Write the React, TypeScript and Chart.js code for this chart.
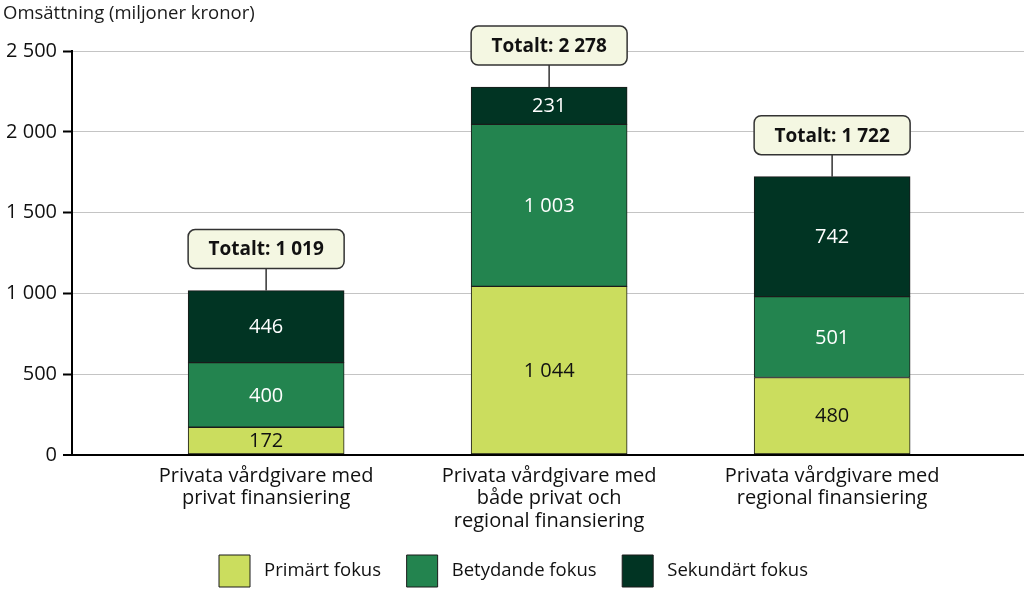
import React, { useEffect, useRef } from "react";
import { Chart, registerables } from "chart.js";

Chart.register(...registerables);

const categories: string[][] = [
  ["Privata vårdgivare med", "privat finansiering"],
  ["Privata vårdgivare med", "både privat och", "regional finansiering"],
  ["Privata vårdgivare med", "regional finansiering"],
];
const primart = [172, 1044, 480];
const betydande = [400, 1003, 501];
const sekundart = [446, 231, 742];
const totals = [1019, 2278, 1722];
const seriesNames = ["Primärt fokus", "Betydande fokus", "Sekundärt fokus"];
const yTicks = [0, 500, 1000, 1500, 2000, 2500];
const yTitle = "Omsättning (miljoner kronor)";

const FONT = "'Open Sans', sans-serif";
const fmt = (n: number) => String(n).replace(/\B(?=(\d{3})+(?!\d))/g, " ");

const labelsPlugin = {
  id: "segLabels",
  afterDatasetsDraw(chart: any) {
    const ctx = chart.ctx;
    ctx.save();
    ctx.textAlign = "center";
    ctx.textBaseline = "middle";
    chart.data.datasets.forEach((ds: any, di: number) => {
      const meta = chart.getDatasetMeta(di);
      meta.data.forEach((el: any, i: number) => {
        const v = ds.data[i].y;
        ctx.font = `20px ${FONT}`;
        ctx.fillStyle = di === 0 ? "#111111" : "#ffffff";
        ctx.fillText(fmt(v), el.x, (el.y + el.base) / 2 + 1);
      });
    });
    const topMeta = chart.getDatasetMeta(chart.data.datasets.length - 1);
    topMeta.data.forEach((el: any, i: number) => {
      const w = el.width;
      const h = 39;
      const barTop = el.y;
      const bottom = barTop - 22;
      const top = bottom - h;
      const left = el.x - w / 2;
      ctx.beginPath();
      ctx.strokeStyle = "#333333";
      ctx.lineWidth = 1.5;
      ctx.moveTo(el.x, bottom);
      ctx.lineTo(el.x, barTop);
      ctx.stroke();
      ctx.beginPath();
      ctx.roundRect(left, top, w, h, 7);
      ctx.fillStyle = "#F4F7E2";
      ctx.fill();
      ctx.stroke();
      ctx.fillStyle = "#111111";
      ctx.font = `bold 19px ${FONT}`;
      ctx.fillText("Totalt: " + fmt(totals[i]), el.x, top + h / 2 + 1);
    });
    ctx.restore();
  },
};

export default function App() {
  const ref = useRef<HTMLCanvasElement>(null);
  useEffect(() => {
    document.body.style.margin = "0";
    const colors = ["#CBDD5E", "#23844F", "#013423"];
    const series = [primart, betydande, sekundart];
    const chart = new Chart(ref.current!, {
      type: "bar",
      data: {
        datasets: series.map((s, si) => ({
          label: seriesNames[si],
          data: s.map((v, i) => ({ x: i, y: v })),
          backgroundColor: colors[si],
          borderColor: "#1b1b1b",
          borderWidth: 1,
          borderSkipped: false,
          barThickness: 156,
        })),
      },
      options: {
        animation: false,
        responsive: true,
        maintainAspectRatio: false,
        events: [],
        layout: { padding: { left: 3, right: 0, top: 0, bottom: -8 } },
        plugins: {
          tooltip: { enabled: false },
          title: {
            display: true,
            text: yTitle,
            align: "start",
            color: "#1a1a1a",
            font: { family: FONT, size: 18.5, weight: "normal" },
            padding: { top: 3, bottom: 26 },
          },
          legend: {
            position: "bottom",
            labels: {
              boxWidth: 31,
              boxHeight: 32,
              padding: 16,
              color: "#111111",
              font: { family: FONT, size: 18.5 },
              generateLabels: (c: any) =>
                Chart.defaults.plugins.legend.labels
                  .generateLabels(c)
                  .map((l: any, i: number, arr: any[]) => ({
                    ...l,
                    text: " " + l.text + (i < arr.length - 1 ? "  " : ""),
                  })),
            },
          },
        },
        scales: {
          x: {
            type: "linear",
            stacked: true,
            offset: false,
            min: -0.686,
            max: 2.678,
            grid: { display: false, drawTicks: false, offset: false },
            border: { display: true, color: "#000000", width: 2 },
            afterBuildTicks: (s: any) => {
              s.ticks = categories.map((_, i) => ({ value: i }));
            },
            afterFit: (s: any) => {
              s.height = 84;
            },
            ticks: {
              autoSkip: false,
              maxRotation: 0,
              padding: 10,
              color: "#111111",
              font: { family: FONT, size: 20, lineHeight: 1.125 },
              callback: (v: any) => categories[v as number] ?? "",
            },
          },
          y: {
            stacked: true,
            min: 0,
            max: 2500,
            afterBuildTicks: (s: any) => {
              s.ticks = yTicks.map((v) => ({ value: v }));
            },
            afterFit: (s: any) => {
              s.width = 69;
            },
            grid: {
              color: (c: any) => (c.tick && c.tick.value === 0 ? "#000000" : "#c4c4c4"),
              lineWidth: (c: any) => (c.tick && c.tick.value === 0 ? 2 : 1),
              tickColor: "#000000",
              tickLength: 9,
              tickWidth: 2,
            },
            border: { display: true, color: "#000000", width: 2 },
            ticks: {
              padding: 6,
              color: "#111111",
              font: { family: FONT, size: 20 },
              callback: (v: any) => fmt(Number(v)),
            },
          },
        },
      },
      plugins: [labelsPlugin],
    });
    return () => chart.destroy();
  }, []);
  return (
    <div style={{ width: 1024, height: 589, position: "relative" }}>
      <canvas ref={ref} />
    </div>
  );
}
